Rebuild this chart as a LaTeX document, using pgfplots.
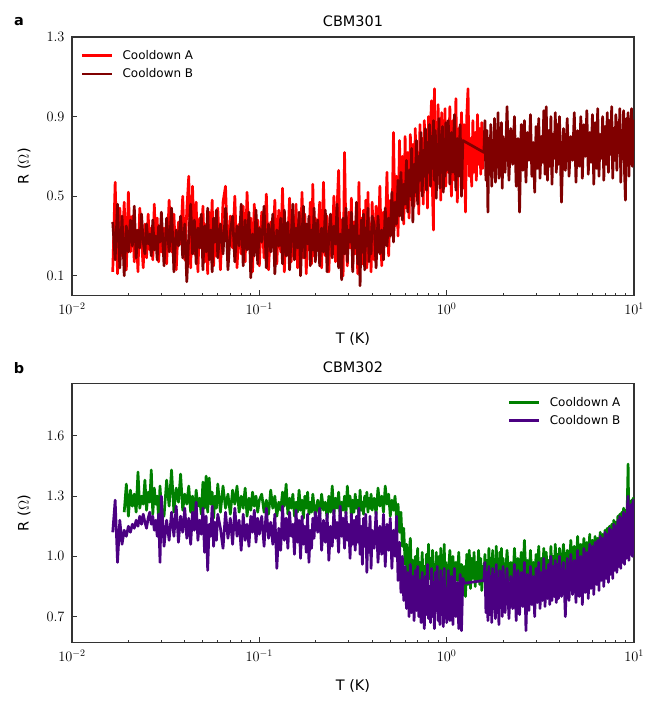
\documentclass[border=0pt]{standalone}
\usepackage{pgfplots}
\pgfplotsset{compat=1.18}
\usepackage{pgfplotstable}
\usepackage{fontspec}
\setmainfont{DejaVu Sans}
\definecolor{cA}{HTML}{FF0000}
\definecolor{cB}{HTML}{800000}
\definecolor{gA}{HTML}{008000}
\definecolor{pB}{HTML}{4B0082}

\pgfplotstableread{
T A1 B1 A2 B2
0.0165 0.12 0.37 nan 1.12
0.0170 0.57 0.18 nan 1.28
0.0175 0.11 0.46 nan 0.97
0.0180 0.44 0.14 nan 1.18
0.0185 0.20 0.40 nan 1.06
0.0190 0.47 0.10 1.22 1.13
0.0195 0.13 0.35 1.36 1.10
0.0200 0.52 0.22 1.20 1.15
0.0205 0.22 0.38 1.33 1.12
0.0210 0.40 0.25 1.25 1.16
0.0215 0.17 0.45 1.31 1.14
0.0220 0.33 0.19 1.22 1.18
0.0225 0.12 0.33 1.42 1.15
0.0230 0.44 0.24 1.24 1.20
0.0235 0.28 0.41 1.30 1.16
0.0240 0.14 0.27 1.26 1.21
0.0245 0.36 0.21 1.38 1.17
0.0250 0.19 0.36 1.23 1.14
0.0255 0.41 0.26 1.32 1.19
0.0260 0.23 0.31 1.27 1.22
0.0265 0.34 0.20 1.43 1.16
0.0270 0.18 0.38 1.21 1.20
0.0275 0.46 0.23 1.34 1.13
0.0280 0.25 0.30 1.26 1.18
0.0285 0.39 0.18 1.30 1.10
0.0290 0.17 0.35 1.19 1.21
0.0295 0.31 0.27 1.35 0.97
0.0300 0.22 0.42 1.24 1.30
0.031 0.34 0.15 1.20 1.05
0.032 0.16 0.39 1.38 1.18
0.033 0.48 0.22 1.25 1.08
0.034 0.22 0.44 1.43 1.22
0.035 0.41 0.12 1.22 1.10
0.036 0.13 0.33 1.34 1.25
0.037 0.37 0.25 1.27 1.07
0.038 0.26 0.40 1.41 1.20
0.039 0.50 0.19 1.23 1.12
0.040 0.18 0.36 1.31 1.24
0.041 0.43 0.07 1.26 1.09
0.042 0.60 0.30 1.35 1.19
0.043 0.14 0.46 1.22 1.06
0.044 0.55 0.21 1.30 1.22
0.045 0.21 0.38 1.20 1.13
0.046 0.47 0.16 1.33 1.27
0.047 0.12 0.34 1.25 1.08
0.048 0.39 0.24 1.29 1.18
0.049 0.24 0.41 1.21 1.11
0.050 0.45 0.13 1.37 1.24
0.051 0.17 0.35 1.24 1.02
0.052 0.36 0.22 1.40 1.20
0.053 0.11 0.44 1.22 0.93
0.054 0.42 0.18 1.39 1.16
0.055 0.26 0.33 1.26 1.10
0.056 0.48 0.12 1.32 1.25
0.057 0.15 0.39 1.19 1.05
0.058 0.34 0.27 1.30 1.17
0.059 0.20 0.43 1.24 1.08
0.060 0.44 0.19 1.36 1.21
0.062 0.13 0.36 1.22 1.14
0.064 0.47 0.21 1.35 1.04
0.066 0.55 0.44 1.24 1.22
0.068 0.18 0.13 1.31 1.09
0.070 0.40 0.32 1.21 1.19
0.072 0.24 0.40 1.33 1.06
0.074 0.50 0.17 1.26 1.24
0.076 0.14 0.35 1.35 1.10
0.078 0.36 0.25 1.22 1.18
0.080 0.21 0.46 1.30 1.03
0.082 0.45 0.15 1.24 1.21
0.084 0.17 0.38 1.34 1.08
0.086 0.52 0.23 1.20 1.16
0.088 0.26 0.42 1.29 1.05
0.090 0.39 0.09 1.23 1.20
0.092 0.12 0.31 1.32 1.12
0.094 0.46 0.20 1.25 1.23
0.096 0.23 0.43 1.30 1.07
0.098 0.38 0.16 1.22 1.19
0.100 0.15 0.34 1.28 1.11
0.103 0.42 0.27 1.31 1.20
0.106 0.19 0.45 1.22 1.05
0.109 0.51 0.14 1.28 1.24
0.112 0.13 0.36 1.21 1.09
0.115 0.37 0.22 1.33 1.17
0.118 0.25 0.41 1.24 1.06
0.121 0.48 0.11 1.30 1.21
0.124 0.16 0.33 1.20 0.94
0.127 0.43 0.25 1.27 1.14
0.130 0.22 0.39 1.23 1.03
0.133 0.54 0.16 1.32 1.25
0.136 0.12 0.43 1.25 1.08
0.139 0.35 0.20 1.36 1.19
0.142 0.27 0.37 1.21 1.04
0.145 0.49 0.13 1.29 1.22
0.148 0.17 0.30 1.24 1.10
0.151 0.40 0.46 1.31 1.16
0.154 0.21 0.18 1.20 1.01
0.157 0.46 0.34 1.27 1.23
0.160 0.14 0.24 1.22 1.07
0.163 0.38 0.42 1.33 1.18
0.166 0.26 0.10 1.23 0.99
0.169 0.52 0.31 1.28 1.20
0.172 0.19 0.45 1.19 1.06
0.175 0.41 0.19 1.30 1.15
0.178 0.11 0.36 1.24 1.02
0.181 0.35 0.26 1.32 1.21
0.184 0.23 0.40 1.21 0.97
0.187 0.47 0.15 1.27 1.13
0.190 0.16 0.33 1.22 1.04
0.193 0.56 0.23 1.31 1.19
0.196 0.20 0.44 1.25 1.09
0.199 0.39 0.17 1.20 1.22
0.205 0.28 0.38 1.28 1.12
0.210 0.47 0.15 1.20 1.24
0.215 0.14 0.34 1.31 1.03
0.220 0.57 0.22 1.23 1.18
0.225 0.20 0.43 1.27 1.07
0.230 0.40 0.12 1.19 1.21
0.235 0.12 0.30 1.30 0.98
0.240 0.36 0.41 1.22 1.15
0.245 0.25 0.19 1.35 1.05
0.250 0.50 0.35 1.21 1.23
0.255 0.17 0.26 1.29 1.09
0.260 0.44 0.46 1.24 1.17
0.265 0.63 0.14 1.32 1.02
0.270 0.22 0.31 1.20 1.25
0.275 0.38 0.08 1.27 1.10
0.280 0.10 0.39 1.23 1.19
0.285 0.72 0.21 1.30 1.04
0.290 0.30 0.44 1.21 1.22
0.295 0.15 0.17 1.35 1.08
0.300 0.42 0.33 1.25 1.16
0.305 0.24 0.27 1.30 0.99
0.310 0.49 0.42 1.19 1.21
0.315 0.13 0.12 1.28 1.06
0.320 0.37 0.35 1.22 1.18
0.325 0.21 0.24 1.31 1.03
0.330 0.45 0.47 1.24 1.20
0.335 0.11 0.16 1.28 1.07
0.340 0.57 0.30 1.20 1.24
0.345 0.26 0.05 1.33 1.01
0.350 0.39 0.38 1.23 1.15
0.355 0.16 0.22 1.27 0.96
0.360 0.43 0.41 1.21 1.19
0.365 0.20 0.13 1.30 1.05
0.370 0.48 0.34 1.25 1.21
0.375 0.14 0.25 1.32 0.92
0.380 0.52 0.44 1.22 1.14
0.385 0.23 0.17 1.29 1.02
0.390 0.36 0.32 1.24 1.20
0.395 0.12 0.21 1.31 0.94
0.400 0.47 0.40 1.23 1.13
0.41 0.18 0.36 1.29 1.04
0.42 0.45 0.14 1.21 1.22
0.43 0.22 0.40 1.34 0.97
0.44 0.55 0.21 1.25 1.15
0.45 0.15 0.33 1.30 1.01
0.46 0.42 0.18 1.22 1.21
0.47 0.28 0.44 1.35 0.95
0.48 0.62 0.25 1.26 1.16
0.49 0.20 0.39 1.31 1.03
0.50 0.48 0.30 1.20 1.19
0.51 0.31 0.52 1.28 0.94
0.52 0.82 0.27 1.23 1.13
0.53 0.35 0.47 1.30 1.00
0.54 0.60 0.36 1.19 1.20
0.55 0.30 0.58 1.26 0.88
0.56 0.78 0.40 1.12 1.07
0.57 0.42 0.62 1.22 0.82
0.58 0.70 0.38 1.05 1.00
0.59 0.36 0.56 1.14 0.78
0.60 0.80 0.46 0.96 0.95
0.61 0.44 0.68 1.06 0.74
0.62 0.72 0.42 0.90 0.92
0.63 0.39 0.63 1.02 0.70
0.64 0.81 0.50 1.09 0.96
0.65 0.48 0.74 0.86 0.72
0.66 0.76 0.37 0.98 0.90
0.67 0.45 0.66 0.82 0.68
0.68 0.84 0.52 1.00 0.93
0.69 0.50 0.78 0.88 0.73
0.70 0.71 0.46 1.04 0.95
0.71 0.41 0.70 0.84 0.70
0.72 0.86 0.58 0.97 0.88
0.73 0.53 0.82 0.80 0.67
0.74 0.79 0.50 1.02 0.92
0.75 0.46 0.73 0.87 0.74
0.76 0.88 0.60 0.95 0.64
0.77 0.57 0.84 0.83 0.90
0.78 0.74 0.53 1.01 0.71
0.79 0.44 0.77 0.86 0.96
0.80 0.90 0.62 1.06 0.69
0.81 0.60 0.86 0.89 0.85
0.82 0.85 0.55 0.99 0.67
0.83 0.98 0.80 0.81 0.94
0.84 0.52 0.64 1.03 0.70
0.85 0.33 0.88 0.88 0.87
0.86 1.04 0.58 0.96 0.64
0.87 0.62 0.83 0.79 0.92
0.88 0.87 0.49 1.02 0.73
0.89 0.56 0.76 0.90 0.95
0.90 0.96 0.61 0.84 0.68
0.91 0.64 0.89 1.00 0.86
0.92 0.81 0.54 0.87 0.66
0.93 0.48 0.79 1.04 0.93
0.94 0.92 0.65 0.85 0.71
0.95 0.58 0.85 0.98 0.89
0.96 0.86 0.52 0.82 0.65
0.97 0.69 0.78 1.06 0.94
0.98 0.94 0.60 0.89 0.70
0.99 0.55 0.87 0.97 0.84
1.00 0.83 0.63 0.83 0.67
1.02 0.62 0.88 0.92 0.93
1.04 0.95 0.56 1.03 0.68
1.06 0.50 0.82 0.86 0.90
1.08 0.88 0.62 1.00 0.66
1.10 0.58 0.91 0.84 0.94
1.12 0.99 0.53 0.97 0.70
1.14 0.47 0.79 0.88 0.87
1.16 0.84 0.60 1.02 0.64
1.18 0.63 0.86 0.83 0.91
1.20 0.92 0.50 0.96 0.63
1.22 0.54 0.78 0.85 0.89
1.24 0.86 nan 0.95 0.866
1.26 0.42 nan 0.80 nan
1.28 0.90 nan 1.01 nan
1.30 1.04 nan 0.86 nan
1.32 0.60 nan 1.03 nan
1.34 0.79 nan 0.84 nan
1.36 0.55 nan 0.99 nan
1.38 0.88 nan 0.89 nan
1.40 0.62 nan 1.02 nan
1.42 0.82 nan 0.85 nan
1.44 0.58 nan 0.97 nan
1.46 0.91 nan 0.88 nan
1.48 0.66 nan 1.03 nan
1.50 0.84 nan 0.86 nan
1.52 0.61 nan 0.99 nan
1.54 0.87 nan 0.83 nan
1.56 0.64 nan 0.95 nan
1.58 0.80 0.72 0.88 0.88
1.60 nan 0.88 1.01 0.97
1.62 nan 0.58 0.87 0.72
1.64 nan 0.83 0.98 0.92
1.66 nan 0.42 0.84 0.68
1.68 nan 0.79 1.04 0.95
1.70 nan 0.61 0.89 0.71
1.72 nan 0.86 0.99 0.90
1.74 nan 0.55 0.86 0.67
1.76 nan 0.78 1.03 0.94
1.78 nan 0.63 0.88 0.74
1.80 nan 0.89 0.97 0.91
1.82 nan 0.57 0.85 0.69
1.84 nan 0.81 1.05 0.96
1.86 nan 0.66 0.90 0.72
1.88 nan 0.92 0.98 0.89
1.90 nan 0.59 0.86 0.66
1.92 nan 0.76 1.02 0.93
1.94 nan 0.62 0.89 0.75
1.96 nan 0.87 1.04 0.92
1.98 nan 0.54 0.87 0.70
2.00 nan 0.80 0.99 0.95
2.05 nan 0.62 0.86 0.72
2.10 nan 0.95 1.03 0.94
2.15 nan 0.58 0.88 0.69
2.20 nan 0.84 0.97 0.90
2.25 nan 0.66 0.85 0.74
2.30 nan 0.90 1.04 0.96
2.35 nan 0.55 0.89 0.68
2.40 nan 0.79 0.99 0.93
2.45 nan 0.42 0.86 0.71
2.50 nan 0.86 1.02 0.92
2.55 nan 0.63 0.88 0.75
2.60 nan 0.88 1.08 0.97
2.65 nan 0.57 0.90 0.63
2.70 nan 0.82 0.98 0.91
2.75 nan 0.68 0.87 0.73
2.80 nan 0.91 1.03 0.95
2.85 nan 0.60 0.89 0.76
2.90 nan 0.77 0.97 0.90
2.95 nan 0.52 0.86 0.70
3.00 nan 0.85 1.01 0.94
3.05 nan 0.64 0.90 0.77
3.10 nan 0.89 1.05 0.97
3.15 nan 0.59 0.88 0.74
3.20 nan 0.80 0.99 0.92
3.25 nan 0.67 0.91 0.78
3.30 nan 0.93 1.04 0.99
3.35 nan 0.61 0.89 0.75
3.40 nan 0.95 1.02 0.93
3.45 nan 0.58 0.90 0.79
3.50 nan 0.83 0.98 0.96
3.55 nan 0.65 0.87 0.76
3.60 nan 0.90 1.05 1.00
3.65 nan 0.56 0.91 0.78
3.70 nan 0.81 1.00 0.95
3.75 nan 0.69 0.89 0.80
3.80 nan 0.92 1.06 0.98
3.85 nan 0.62 0.92 0.77
3.90 nan 0.86 1.01 0.96
3.95 nan 0.66 0.90 0.79
4.00 nan 0.90 1.04 1.00
4.1 nan 0.47 0.92 0.80
4.2 nan 0.84 1.06 0.97
4.3 nan 0.63 0.90 0.70
4.4 nan 0.89 1.03 0.99
4.5 nan 0.60 0.93 0.78
4.6 nan 0.80 1.08 1.01
4.7 nan 0.68 0.91 0.81
4.8 nan 0.92 1.05 0.98
4.9 nan 0.57 0.94 0.77
5.0 nan 0.83 1.10 1.03
5.1 nan 0.65 0.92 0.80
5.2 nan 0.90 1.06 1.00
5.3 nan 0.59 0.95 0.76
5.4 nan 0.86 1.09 1.04
5.5 nan 0.70 0.93 0.82
5.6 nan 0.93 1.07 1.02
5.7 nan 0.61 0.96 0.79
5.8 nan 0.82 1.11 1.06
5.9 nan 0.67 0.94 0.84
6.0 nan 0.91 1.08 1.05
6.1 nan 0.56 0.97 0.81
6.2 nan 0.87 1.10 1.07
6.3 nan 0.64 0.95 0.86
6.4 nan 0.94 1.09 1.08
6.5 nan 0.60 0.98 0.83
6.6 nan 0.81 1.12 1.10
6.7 nan 0.69 0.97 0.88
6.8 nan 0.90 1.11 1.09
6.9 nan 0.58 1.00 0.85
7.0 nan 0.85 1.13 1.12
7.1 nan 0.66 0.99 0.89
7.2 nan 0.92 1.14 1.11
7.3 nan 0.62 1.01 0.87
7.4 nan 0.88 1.15 1.14
7.5 nan 0.71 1.02 0.91
7.6 nan 0.95 1.16 1.13
7.7 nan 0.59 1.03 0.89
7.8 nan 0.84 1.18 1.16
7.9 nan 0.68 1.04 0.93
8.0 nan 0.91 1.17 1.15
8.1 nan 0.63 1.06 0.92
8.2 nan 0.87 1.20 1.18
8.3 nan 0.72 1.05 0.95
8.4 nan 0.94 1.21 1.20
8.5 nan 0.57 1.08 0.94
8.6 nan 0.83 1.22 1.19
8.7 nan 0.70 1.07 0.97
8.8 nan 0.93 1.24 1.22
8.9 nan 0.62 1.09 0.96
9.0 nan 0.48 1.23 1.21
9.1 nan 0.89 1.10 0.99
9.2 nan 0.66 1.25 1.24
9.3 nan 0.92 1.46 1.30
9.4 nan 0.60 1.11 0.98
9.5 nan 0.86 1.27 1.25
9.6 nan 0.73 1.12 1.01
9.7 nan 0.94 1.28 1.26
9.8 nan 0.65 1.13 1.00
9.9 nan 0.88 1.29 1.28
10.0 nan 0.74 1.15 1.04
}\data

\begin{document}
\begin{tikzpicture}[x=1bp,y=1bp]
\useasboundingbox (0,0) rectangle (659,708);
\begin{axis}[scale only axis, width=562bp, height=258.7bp,
  at={(72bp,412.3bp)}, anchor=south west,
  xmode=log, xmin=0.01, xmax=10,
  ymin=0.0, ymax=1.3, ytick={0.1,0.5,0.9,1.3},
  tick align=inside, tick pos=left,
  major tick length=5.5bp, minor tick length=3bp,
  axis line style={line width=1.1bp, black!80},
  every tick/.style={line width=0.9bp, black!80},
  tick label style={font=\fontsize{14}{16}\selectfont},
  yticklabel style={xshift=-4bp, /pgf/number format/.cd, fixed, fixed zerofill, precision=1},
  xticklabel style={yshift=-4bp},
  title={CBM301}, xlabel={T (K)}, ylabel={R ($\Omega$)},
  title style={at={(axis description cs:0.5,1)}, anchor=center, yshift=10bp, font=\fontsize{14.5}{17}\selectfont},
  xlabel style={at={(axis description cs:0.5,0)}, anchor=center, yshift=-43bp, font=\fontsize{14.5}{17}\selectfont},
  ylabel style={at={(axis description cs:-0.0854,0.5)}, anchor=center, font=\fontsize{14.5}{17}\selectfont},
  legend style={draw=none, fill=none, font=\fontsize{12}{14}\selectfont, row sep=4bp, at={(axis description cs:0.01,0.965)}, anchor=north west, /tikz/every odd column/.append style={column sep=7bp}},
  legend cell align=left,
  legend image code/.code={\draw[#1, line width=2.8bp, line cap=butt] (0bp,0bp) -- (30bp,0bp);},
  filter discard warning=false,
  ]
\addplot[cA, line width=2.7bp, line join=round, no marks] table[x=T, y=A1] {\data};
\addlegendentry{Cooldown A}
\addplot[cB, line width=2.7bp, line join=round, no marks] table[x=T, y=B1] {\data};
\addlegendentry{Cooldown B}
\end{axis}
\begin{axis}[scale only axis, width=562bp, height=259bp,
  at={(72bp,65.3bp)}, anchor=south west,
  xmode=log, xmin=0.01, xmax=10,
  ymin=0.57, ymax=1.86, ytick={0.7,1.0,1.3,1.6},
  tick align=inside, tick pos=left,
  major tick length=5.5bp, minor tick length=3bp,
  axis line style={line width=1.1bp, black!80},
  every tick/.style={line width=0.9bp, black!80},
  tick label style={font=\fontsize{14}{16}\selectfont},
  yticklabel style={xshift=-4bp, /pgf/number format/.cd, fixed, fixed zerofill, precision=1},
  xticklabel style={yshift=-4bp},
  title={CBM302}, xlabel={T (K)}, ylabel={R ($\Omega$)},
  title style={at={(axis description cs:0.5,1)}, anchor=center, yshift=10bp, font=\fontsize{14.5}{17}\selectfont},
  xlabel style={at={(axis description cs:0.5,0)}, anchor=center, yshift=-43bp, font=\fontsize{14.5}{17}\selectfont},
  ylabel style={at={(axis description cs:-0.0854,0.5)}, anchor=center, font=\fontsize{14.5}{17}\selectfont},
  legend style={draw=none, fill=none, font=\fontsize{12}{14}\selectfont, row sep=4bp, at={(axis description cs:0.985,0.965)}, anchor=north east, /tikz/every odd column/.append style={column sep=7bp}},
  legend cell align=left,
  legend image code/.code={\draw[#1, line width=2.8bp, line cap=butt] (0bp,0bp) -- (30bp,0bp);},
  filter discard warning=false,
  ]
\addplot[gA, line width=2.7bp, line join=round, no marks] table[x=T, y=A2] {\data};
\addlegendentry{Cooldown A}
\addplot[pB, line width=2.7bp, line join=round, no marks] table[x=T, y=B2] {\data};
\addlegendentry{Cooldown B}
\end{axis}
\node[font=\fontsize{14.5}{17}\selectfont\bfseries] at (19,686) {a};
\node[font=\fontsize{14.5}{17}\selectfont\bfseries] at (19,340) {b};
\end{tikzpicture}
\end{document}
